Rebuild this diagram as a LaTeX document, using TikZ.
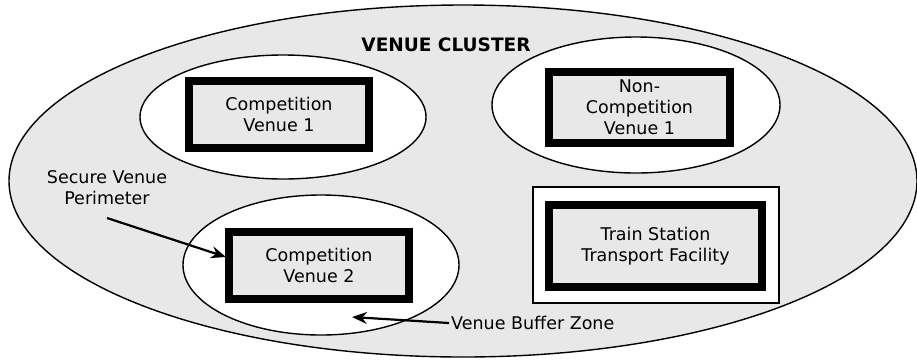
\documentclass[tikz,border=0pt]{standalone}
\usepackage{fontspec}
\setmainfont{DejaVu Sans}
\usetikzlibrary{shapes.geometric,arrows.meta}
\definecolor{zonegray}{HTML}{E8E8E8}
\tikzset{
  zone/.style={ellipse, draw=black, line width=1.4pt, fill=white, inner sep=0pt},
  venuebox/.style={rectangle, draw=black, line width=8pt, fill=zonegray, inner sep=0pt,
    align=center, font=\fontsize{17.5}{21}\selectfont},
  lbl/.style={align=center, inner sep=0pt, font=\fontsize{17.5}{21}\selectfont},
  pointer/.style={line width=2.2pt, -{Stealth[length=15pt,width=12pt]}}
}
\begin{document}
\begin{tikzpicture}[x=1pt,y=-1pt]
\useasboundingbox (0,0) rectangle (917,360);
% outer cluster area
\node[ellipse, draw=black, line width=1.4pt, fill=zonegray, inner sep=0pt,
      minimum width=908pt, minimum height=352pt] (cluster) at (463,181) {};
\node[inner sep=0pt, font=\fontsize{18.5}{22}\selectfont\bfseries] (title) at (446,45) {VENUE CLUSTER};

% buffer zones
\node[zone, minimum width=286pt, minimum height=124pt] (z1) at (283,117) {};
\node[zone, minimum width=288pt, minimum height=136pt] (z2) at (636,105) {};
\node[zone, minimum width=276pt, minimum height=140pt] (z3) at (321,265) {};
\node[rectangle, draw=black, line width=1.4pt, fill=white, minimum width=246pt,
      minimum height=116pt] (zt) at (656,245) {};

% venues
\node[venuebox, minimum width=180pt, minimum height=67pt] (v1) at (279,114.5) {Competition\\Venue 1};
\node[venuebox, minimum width=181pt, minimum height=71pt] (v2) at (639.5,107.5) {Non-\\Competition\\Venue 1};
\node[venuebox, minimum width=180pt, minimum height=67pt] (v3) at (319,265.5) {Competition\\Venue 2};
\node[venuebox, minimum width=213pt, minimum height=82pt] (vt) at (655.5,246) {Train Station\\Transport Facility};

% annotations
\node[lbl] (perim) at (107,188) {Secure Venue\\Perimeter};
\node[lbl, anchor=west] (buffer) at (451,323) {Venue Buffer Zone};
\coordinate (pstart) at (107,218);
\coordinate (ptip) at (226,257);
\coordinate (bstart) at (449,323);
\coordinate (btip) at (352,317);
\draw[pointer] (pstart) -- (ptip);
\draw[pointer] (bstart) -- (btip);
\end{tikzpicture}
\end{document}
